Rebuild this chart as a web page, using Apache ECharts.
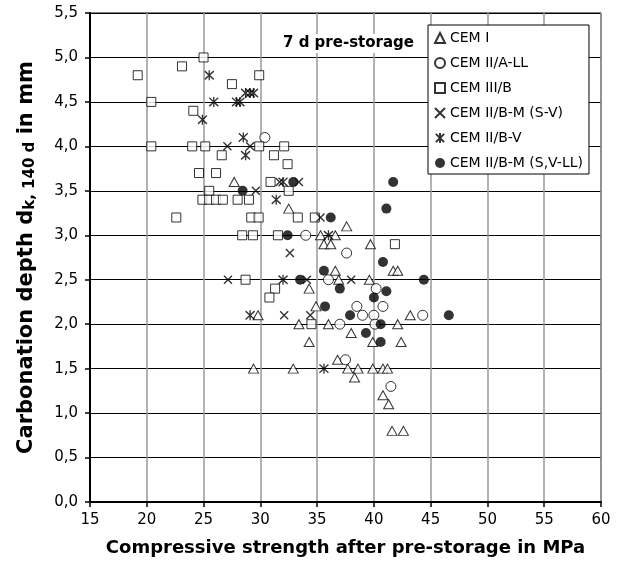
<!DOCTYPE html>
<html><head><meta charset="utf-8">
<script src="https://cdn.jsdelivr.net/npm/echarts@6/dist/echarts.min.js"></script>
<style>html,body{margin:0;padding:0;background:#fff}#c{width:625px;height:565px}</style>
</head><body><div id="c"></div>
<script>
const seriesNames = ['CEM I','CEM II/A-LL','CEM III/B','CEM II/B-M (S-V)','CEM II/B-V','CEM II/B-M (S,V-LL)'];
const xTicks = [15,20,25,30,35,40,45,50,55,60];
const yTicks = [0,0.5,1,1.5,2,2.5,3,3.5,4,4.5,5,5.5];

const cemI = [[27.7,3.6],[29.8,2.1],[32.5,3.3],[37.6,3.1],[35.3,3.0],[36.6,3.0],[35.6,2.9],[36.2,2.9],[39.7,2.9],
  [36.6,2.6],[41.7,2.6],[42.1,2.6],[36.9,2.5],[39.6,2.5],[34.3,2.4],[34.9,2.2],[43.2,2.1],[33.4,2.0],[36.0,2.0],
  [42.1,2.0],[38.0,1.9],[34.3,1.8],[39.9,1.8],[42.4,1.8],[36.8,1.6],[29.4,1.5],[32.9,1.5],[37.7,1.5],[38.6,1.5],
  [39.9,1.5],[40.8,1.5],[41.2,1.5],[38.3,1.4],[40.8,1.2],[41.3,1.1],[41.6,0.8],[42.6,0.8]];
const cemIIALL = [[30.4,4.1],[34.0,3.0],[37.6,2.8],[36.0,2.5],[40.2,2.4],[38.5,2.2],[40.8,2.2],[39.0,2.1],[40.0,2.1],
  [44.3,2.1],[37.0,2.0],[40.1,2.0],[37.5,1.6],[41.5,1.3]];
const cemIIIB = [[19.2,4.8],[20.4,4.5],[23.1,4.9],[25.0,5.0],[27.5,4.7],[29.9,4.8],[24.1,4.4],[20.4,4.0],[24.0,4.0],
  [25.15,4.0],[29.9,4.0],[32.1,4.0],[26.6,3.9],[31.2,3.9],[32.4,3.8],[24.6,3.7],[26.1,3.7],[30.9,3.6],[25.5,3.5],
  [32.5,3.5],[24.9,3.4],[25.5,3.4],[26.1,3.4],[26.7,3.4],[28.0,3.4],[29.0,3.4],[22.6,3.2],[29.2,3.2],[29.85,3.2],
  [33.3,3.2],[34.8,3.2],[28.4,3.0],[29.35,3.0],[31.55,3.0],[41.85,2.9],[28.7,2.5],[31.3,2.4],[30.8,2.3],[34.5,2.0]];
const cemIIBMSV = [[27.1,4.0],[29.1,4.0],[29.6,3.5],[31.7,3.6],[33.4,3.6],[35.3,3.2],[32.6,2.8],[34.1,2.5],[38.0,2.5],
  [27.15,2.5],[32.1,2.1],[34.4,2.1]];
const cemIIBV = [[25.5,4.8],[25.9,4.5],[27.9,4.5],[28.2,4.5],[28.7,4.6],[29.1,4.6],[29.4,4.6],[24.9,4.3],[28.5,4.1],
  [28.7,3.9],[32.0,3.6],[31.4,3.4],[36.0,3.0],[32.0,2.5],[29.1,2.1],[35.6,1.5]];
const cemIIBMSVLL = [[28.44,3.5],[32.9,3.6],[41.7,3.6],[41.1,3.3],[36.2,3.2],[32.4,3.0],[40.8,2.7],[35.6,2.6],[33.5,2.5],
  [44.4,2.5],[37.0,2.4],[41.1,2.37],[40.0,2.3],[35.7,2.2],[37.9,2.1],[46.6,2.1],[40.6,2.0],[39.3,1.9],[40.6,1.8]];

const FONT = 'DejaVu Sans';
const crossPath = 'path://M0,0L10,10M10,0L0,10';
const starPath = 'path://M0,1L10,11M10,1L0,11M5,0L5,12';
const openStyle = {color:'#fff', borderColor:'#000', borderWidth:1};
const lineStyleSym = {color:'rgba(0,0,0,0)', borderColor:'#000', borderWidth:1.4};

const chart = echarts.init(document.getElementById('c'), null, {renderer:'canvas'});
chart.setOption({
  animation:false,
  backgroundColor:'#fff',
  grid:{left:90, right:24, top:13, bottom:63, show:true, borderColor:'#000', borderWidth:1, backgroundColor:'#fff'},
  xAxis:{
    type:'value', min:xTicks[0], max:xTicks[xTicks.length-1], interval:5,
    axisLine:{show:true, onZero:false, lineStyle:{color:'#000', width:2}},
    axisTick:{show:true, length:5, lineStyle:{color:'#000', width:1.5}},
    axisLabel:{fontFamily:FONT, fontSize:15, color:'#000', margin:11},
    splitLine:{show:true, lineStyle:{color:'#999', width:1.5}},
    name:'Compressive strength after pre-storage in MPa', nameLocation:'middle', nameGap:37,
    nameTextStyle:{fontFamily:FONT, fontWeight:'bold', fontSize:18, color:'#000'}
  },
  yAxis:{
    type:'value', min:yTicks[0], max:yTicks[yTicks.length-1], interval:0.5,
    axisLine:{show:true, onZero:false, lineStyle:{color:'#000', width:2}},
    axisTick:{show:true, length:5, lineStyle:{color:'#000', width:1.5}},
    axisLabel:{fontFamily:FONT, fontSize:15, color:'#000', margin:12, formatter:v=>v.toFixed(1).replace('.',',')},
    splitLine:{show:true, lineStyle:{color:'#000', width:1}},
    name:'{m|Carbonation depth d}{s|k, 140 d}{m| in mm}', nameLocation:'middle', nameGap:52, nameRotate:90,
    nameTextStyle:{color:'#000', rich:{
      m:{fontFamily:FONT, fontWeight:'bold', fontSize:21, color:'#000'},
      s:{fontFamily:FONT, fontWeight:'bold', fontSize:15, color:'#000', verticalAlign:'bottom', padding:[8,0,0,0]}
    }}
  },
  legend:{
    orient:'vertical', left:428, top:25, padding:[6,6,4,6], itemGap:11, itemWidth:10, itemHeight:10,
    backgroundColor:'#fff', borderColor:'#000', borderWidth:1, borderRadius:0,
    textStyle:{fontFamily:FONT, fontSize:14, color:'#000'},
    data:seriesNames
  },
  graphic:[{
    type:'text', left:280, top:34, z:10,
    style:{text:'7 d pre-storage', fontFamily:FONT, fontWeight:'bold', fontSize:15, fill:'#000',
      backgroundColor:'#fff', padding:[2,3]}
  }],
  series:[
    {name:seriesNames[0], type:'scatter', data:cemI, symbol:'triangle', symbolSize:[10,9], itemStyle:openStyle},
    {name:seriesNames[1], type:'scatter', data:cemIIALL, symbol:'circle', symbolSize:10, itemStyle:openStyle},
    {name:seriesNames[2], type:'scatter', data:cemIIIB, symbol:'rect', symbolSize:9, itemStyle:openStyle},
    {name:seriesNames[3], type:'scatter', data:cemIIBMSV, symbol:crossPath, symbolSize:8, itemStyle:lineStyleSym},
    {name:seriesNames[4], type:'scatter', data:cemIIBV, symbol:starPath, symbolSize:[9,10], itemStyle:lineStyleSym},
    {name:seriesNames[5], type:'scatter', data:cemIIBMSVLL, symbol:'circle', symbolSize:10, itemStyle:{color:'#000'}}
  ]
});
</script></body></html>
